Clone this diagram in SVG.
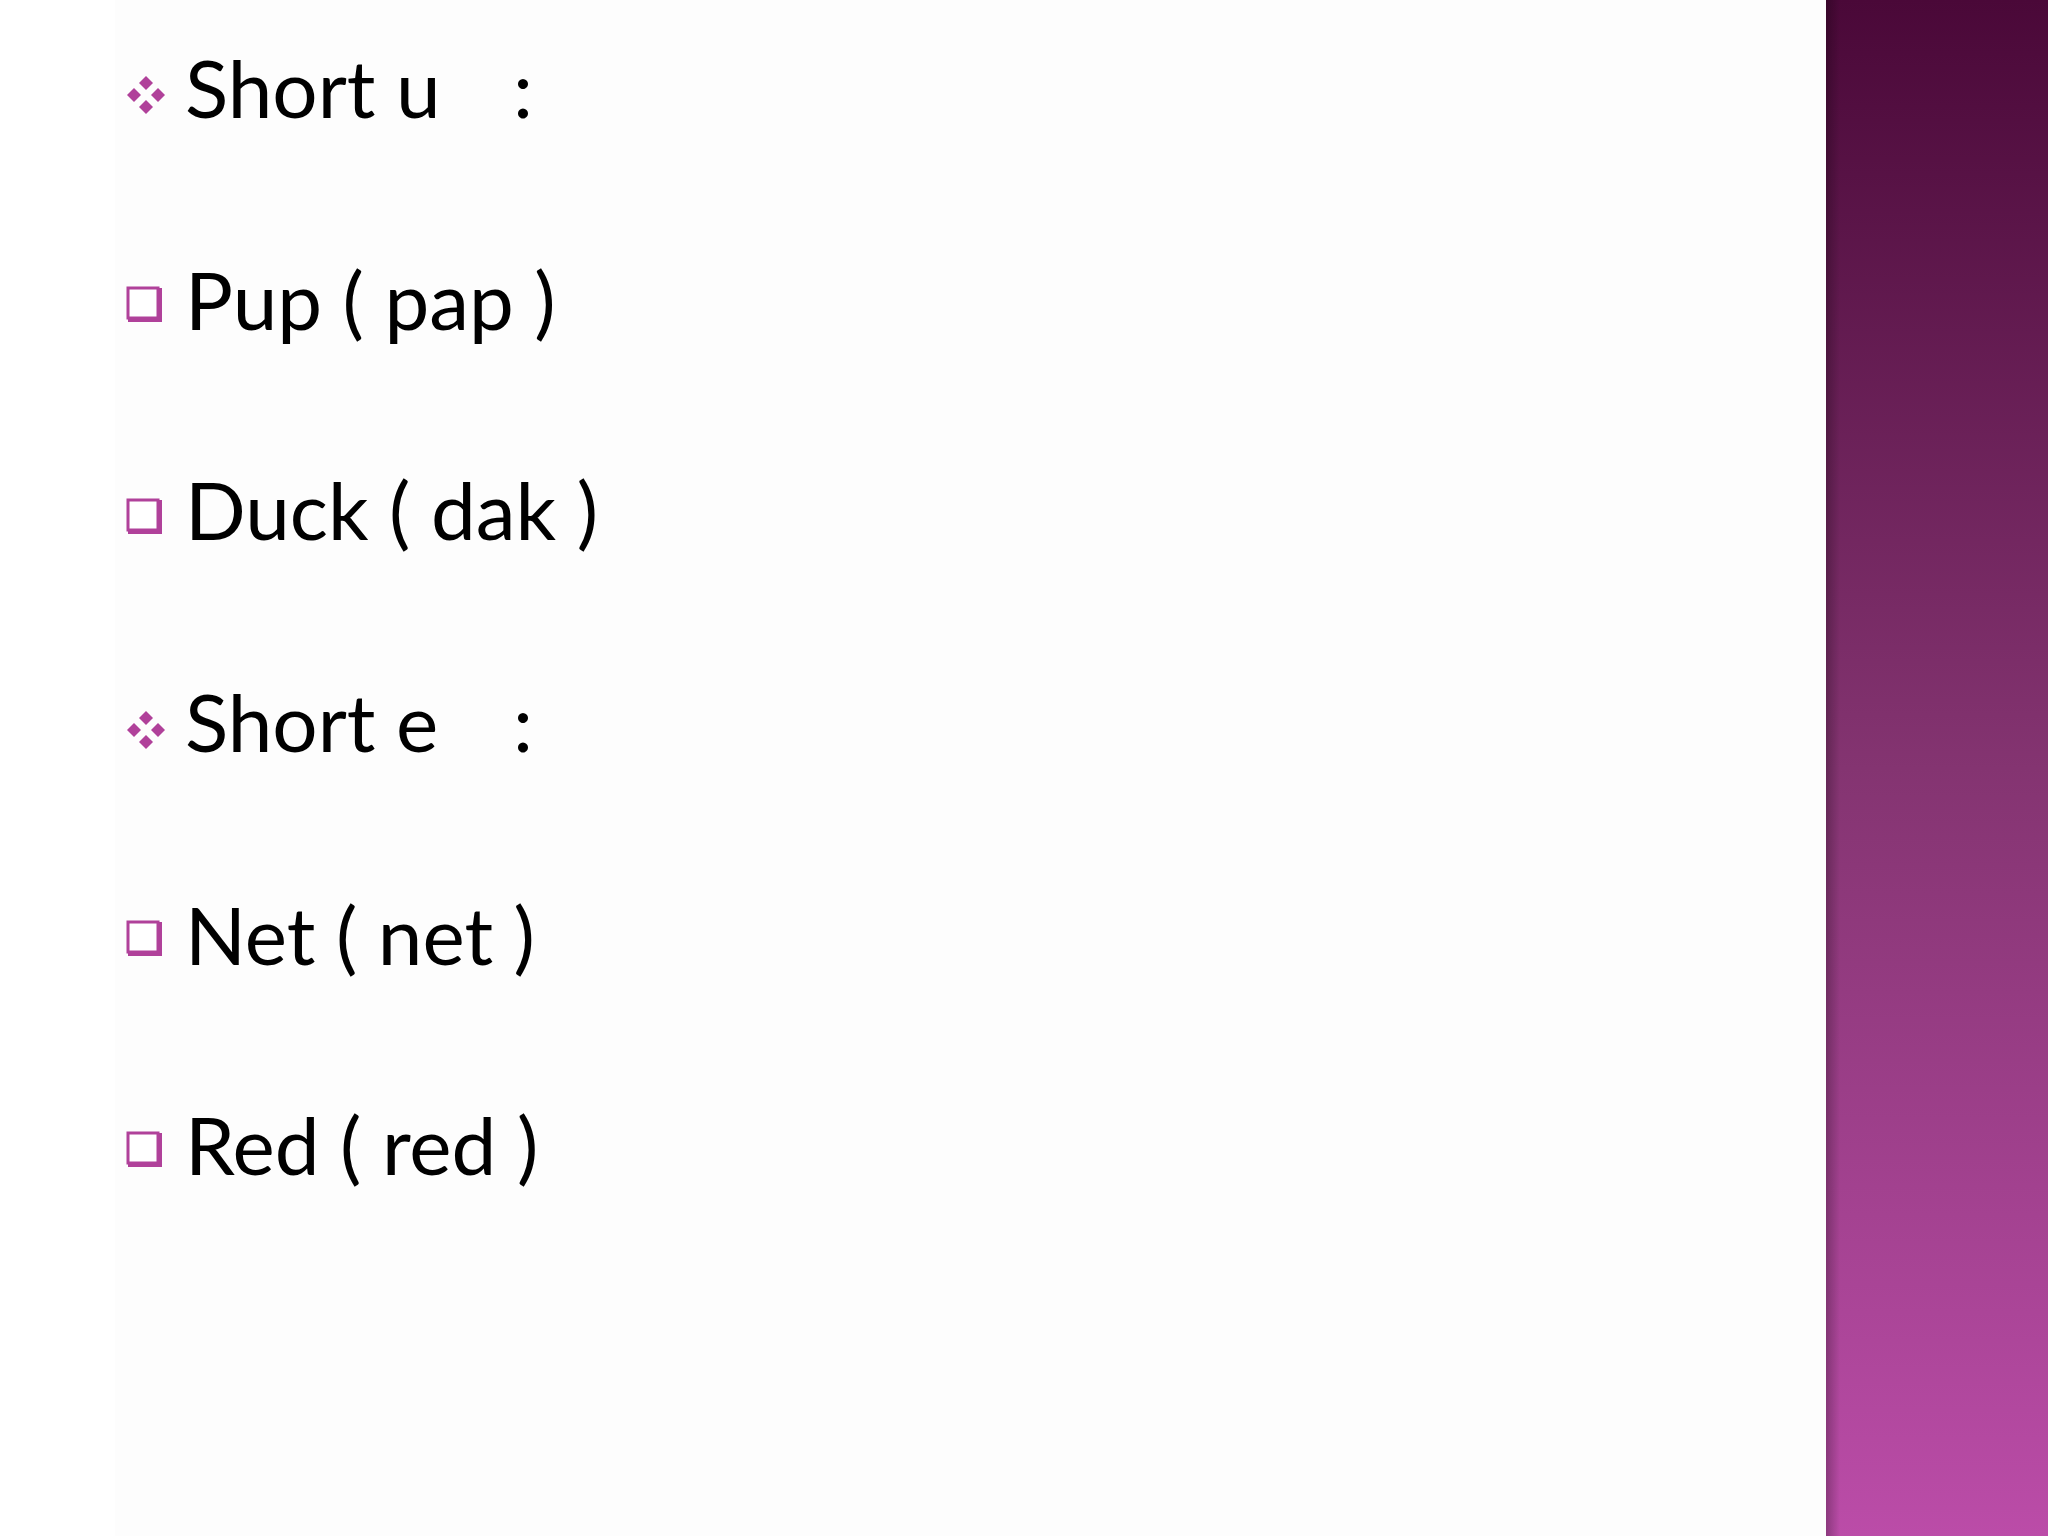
<svg xmlns="http://www.w3.org/2000/svg" width="2048" height="1536" viewBox="0 0 2048 1536">
<defs>
<linearGradient id="bar" x1="0" y1="0" x2="0" y2="1">
<stop offset="0" stop-color="#4a0838"/>
<stop offset="0.5" stop-color="#843471"/>
<stop offset="1" stop-color="#bb4ca8"/>
</linearGradient>
<linearGradient id="edge" x1="0" y1="0" x2="1" y2="0">
<stop offset="0" stop-color="#000" stop-opacity="0.25"/>
<stop offset="1" stop-color="#000" stop-opacity="0"/>
</linearGradient>
<g id="box"><rect x="0" y="0" width="34" height="34" fill="#b0419a"/><rect x="0" y="0" width="30" height="30" fill="#fff" stroke="#b0419a" stroke-width="3"/></g>
<g id="dia" fill="#b0419a"><path d="M19 0 L26 7 L19 14 L12 7Z"/><path d="M7 12 L14 19 L7 26 L0 19Z"/><path d="M31 12 L38 19 L31 26 L24 19Z"/><path d="M19 24 L26 31 L19 38 L12 31Z"/></g>
</defs>
<style>text{font-family:Lato,"DejaVu Sans",sans-serif;font-size:80px;fill:#000}</style>
<rect width="2048" height="1536" fill="#ffffff"/>
<rect x="115" width="1711" height="1536" fill="#fdfdfd"/>
<rect x="1826" width="222" height="1536" fill="url(#bar)"/>
<rect x="1826" width="14" height="1536" fill="url(#edge)"/>
<g id="n1"><use href="#dia" x="127" y="76"/><text x="185" y="118">Short u</text><text x="513" y="118">:</text></g>
<g id="n2"><use href="#box" x="128" y="288"/><text x="185" y="330">Pup ( pap )</text></g>
<g id="n3"><use href="#box" x="128" y="500"/><text x="185" y="540">Duck ( dak )</text></g>
<g id="n4"><use href="#dia" x="127" y="711"/><text x="185" y="752">Short e</text><text x="513" y="752">:</text></g>
<g id="n5"><use href="#box" x="128" y="922"/><text x="185" y="965">Net ( net )</text></g>
<g id="n6"><use href="#box" x="128" y="1133"/><text x="185" y="1175">Red ( red )</text></g>
<g id="connectors"/>
</svg>
